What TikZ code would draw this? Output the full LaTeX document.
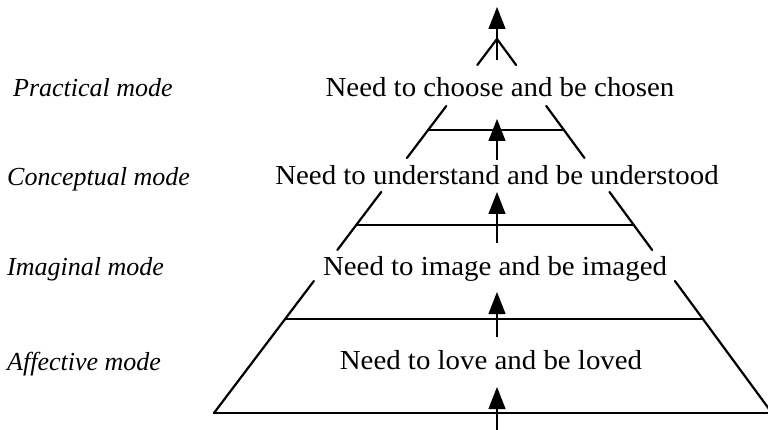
\documentclass[tikz,border=0pt]{standalone}
\usepackage{fontspec}
\setmainfont{Liberation Serif}
\newfontfamily\captionfont{Liberation Serif}[FakeStretch=1.05]
\usetikzlibrary{arrows.meta,calc}
\begin{document}
\begin{tikzpicture}[x=1pt,y=-1pt,
  edge/.style={line width=2.2pt, line cap=round},
  rise/.style={line width=1.2pt, -{Triangle[length=22pt,width=17pt]}},
  need/.style={anchor=base, inner sep=0pt, font=\captionfont\fontsize{27.5}{30}\selectfont},
  modelabel/.style={anchor=base west, inner sep=0pt, font=\fontsize{26}{30}\selectfont\itshape}]
\useasboundingbox (0,0) rectangle (768,430);

% pyramid corners
\coordinate (apex) at (497,39);
\coordinate (bl) at (214,413);
\coordinate (br) at (772,413);

% points on the two sides at the given heights
\foreach \h in {65,106,130,158,192,225,250,281,319} {
  \coordinate (l\h) at ($(apex)!{(\h-39)/374}!(bl)$);
  \coordinate (r\h) at ($(apex)!{(\h-39)/374}!(br)$);
}

% sides, broken where the level captions sit
\draw[edge] (l65) -- (apex) -- (r65);
\draw[edge] (l106) -- (l158);  \draw[edge] (r106) -- (r158);
\draw[edge] (l192) -- (l250);  \draw[edge] (r192) -- (r250);
\draw[edge] (l281) -- (bl);    \draw[edge] (r281) -- (br);

% level boundaries
\draw[edge] (l130) -- (r130);
\draw[edge] (l225) -- (r225);
\draw[edge] (l319) -- (r319);
\draw[edge] (bl) -- (br);

% captions inside the pyramid
\node[need] (choose) at (500,97) {Need to choose and be chosen};
\node[need] (understand) at (497,185) {Need to understand and be understood};
\node[need] (image) at (495,276) {Need to image and be imaged};
\node[need] (love) at (491,369) {Need to love and be loved};

% mode names on the left
\node[modelabel] (practical) at (13,97) {Practical mode};
\node[modelabel] (conceptual) at (7,186) {Conceptual mode};
\node[modelabel] (imaginal) at (7,276) {Imaginal mode};
\node[modelabel] (affective) at (7,370) {Affective mode};

% upward arrows through the levels
\coordinate (a0) at (497,60);  \coordinate (b0) at (497,7);
\coordinate (a1) at (497,160); \coordinate (b1) at (497,119);
\coordinate (a2) at (497,243); \coordinate (b2) at (497,192);
\coordinate (a3) at (497,337); \coordinate (b3) at (497,292);
\coordinate (a4) at (497,432); \coordinate (b4) at (497,387);
\foreach \i in {0,...,4} { \draw[rise] (a\i) -- (b\i); }
\end{tikzpicture}
\end{document}
